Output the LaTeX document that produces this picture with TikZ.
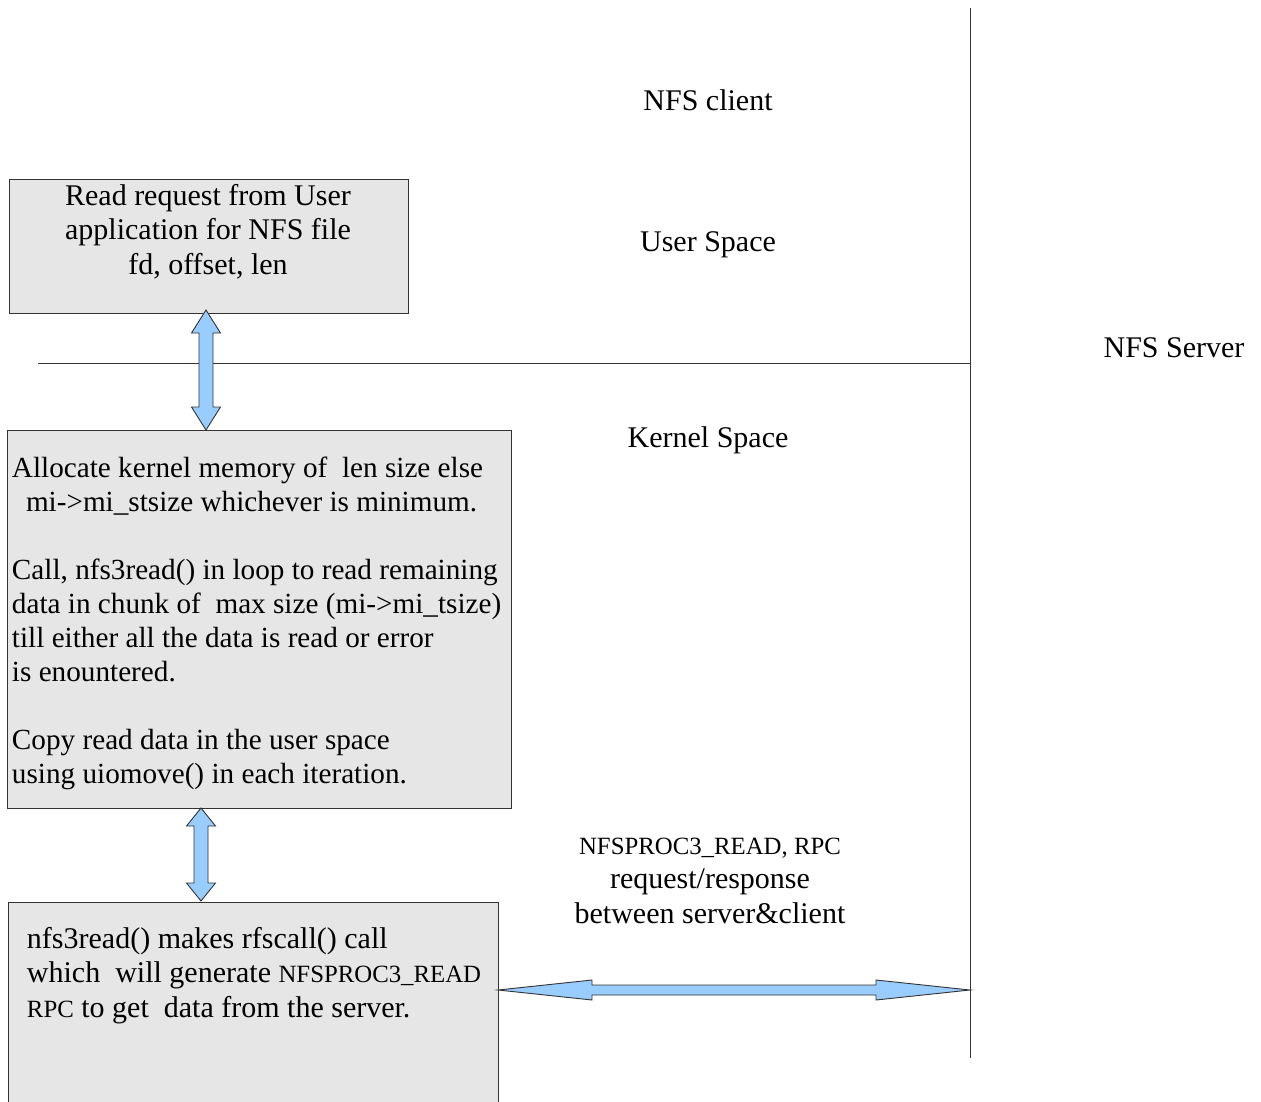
\documentclass[tikz,border=0pt]{standalone}
\usepackage{fontspec}
\setmainfont{Liberation Serif}
\usetikzlibrary{calc}
\definecolor{boxfill}{HTML}{E6E6E6}
\definecolor{arrfill}{HTML}{99CCFF}
\definecolor{edgec}{HTML}{333333}
\newcommand\smallsz{\fontsize{24.8}{28}\selectfont}
% vertical double arrow: #1 top tip, #2 bottom tip, #3 head length, #4 half head, #5 half shaft
\newcommand\vdarrow[5]{%
  \draw[dblarrow] (#1) -- ($(#1)+(#4,#3)$) -- ($(#1)+(#5,#3)$) -- ($(#2)+(#5,-#3)$) -- ($(#2)+(#4,-#3)$) -- (#2)
    -- ($(#2)+(-#4,-#3)$) -- ($(#2)+(-#5,-#3)$) -- ($(#1)+(-#5,#3)$) -- ($(#1)+(-#4,#3)$) -- cycle;}
% horizontal double arrow: #1 left tip, #2 right tip
\newcommand\hdarrow[5]{%
  \draw[dblarrow] (#1) -- ($(#1)+(#3,-#4)$) -- ($(#1)+(#3,-#5)$) -- ($(#2)+(-#3,-#5)$) -- ($(#2)+(-#3,-#4)$) -- (#2)
    -- ($(#2)+(-#3,#4)$) -- ($(#2)+(-#3,#5)$) -- ($(#1)+(#3,#5)$) -- ($(#1)+(#3,#4)$) -- cycle;}
\begin{document}
\begin{tikzpicture}[x=1pt,y=-1pt,
  every node/.style={inner sep=0pt,outer sep=0pt},
  box/.style={draw=edgec,fill=boxfill,line width=1pt},
  txt/.style={font=\fontsize{30}{34.5}\selectfont,text=black},
  ktxt/.style={font=\fontsize{29.2}{34}\selectfont,text=black},
  dblarrow/.style={draw=edgec,fill=arrfill,line width=0.9pt,line join=miter},
  rule/.style={draw=black!80,line width=1pt}]
\useasboundingbox (0,0) rectangle (1261,1101);
\clip (0,0) rectangle (1261,1101);
\fill[white] (0,0) rectangle (1261,1101);

% separators
\coordinate (vtop) at (970,8);
\coordinate (vbot) at (970,1058);
\coordinate (hl) at (38,363);
\coordinate (hr) at (970,363);
\draw[rule] (vtop) -- (vbot);
\draw[rule] (hl) -- (hr);

% boxes
\node[box,anchor=north west,minimum width=399pt,minimum height=134pt] (user) at (9,179) {};
\node[box,anchor=north west,minimum width=504pt,minimum height=378pt] (kern) at (7,430) {};
\node[box,anchor=north west,minimum width=490pt,minimum height=260pt] (rfs) at (8,902) {};

% box texts (anchor base = baseline of last line)
\node[txt,anchor=base,align=center] (usertxt) at (208,274)
  {Read request from User\\application for NFS file\\fd, offset, len};
\node[ktxt,anchor=base west,align=left] (kerntxt) at (12,783)
  {Allocate kernel memory of\ \ len size else\\
   \hspace*{14pt}mi->mi\_stsize whichever is minimum.\\[34pt]
   Call, nfs3read() in loop to read remaining\\
   data in chunk of\ \ max size (mi->mi\_tsize)\\
   till either all the data is read or error\\
   is enountered.\\[34pt]
   Copy read data in the user space\\
   using uiomove() in each iteration.};
\node[txt,anchor=base west,align=left] (rfstxt) at (27,1017)
  {nfs3read() makes rfscall() call\\
   which\ \ will generate {\smallsz NFSPROC3\_READ}\\
   {\smallsz RPC} to get\ \ data from the server.};

% labels
\node[txt,anchor=base] (client) at (708,110) {NFS client};
\node[txt,anchor=base] (uspace) at (708,251) {User Space};
\node[txt,anchor=base] (kspace) at (708,447) {Kernel Space};
\node[txt,anchor=base] (server) at (1174,357) {NFS Server};
\node[txt,anchor=base,align=center] (rpclbl) at (710,923)
  {{\smallsz NFSPROC3\_READ, RPC}\\request/response\\between server\&client};

% arrows
\coordinate (a1) at (206,310);
\coordinate (a2) at (206,430);
\coordinate (b1) at (201,808);
\coordinate (b2) at (201,901);
\coordinate (c1) at (498,990);
\coordinate (c2) at (970,990);
\vdarrow{a1}{a2}{23}{14.5}{7}
\vdarrow{b1}{b2}{18}{14.5}{7}
\hdarrow{c1}{c2}{94}{10}{5}
\end{tikzpicture}
\end{document}
